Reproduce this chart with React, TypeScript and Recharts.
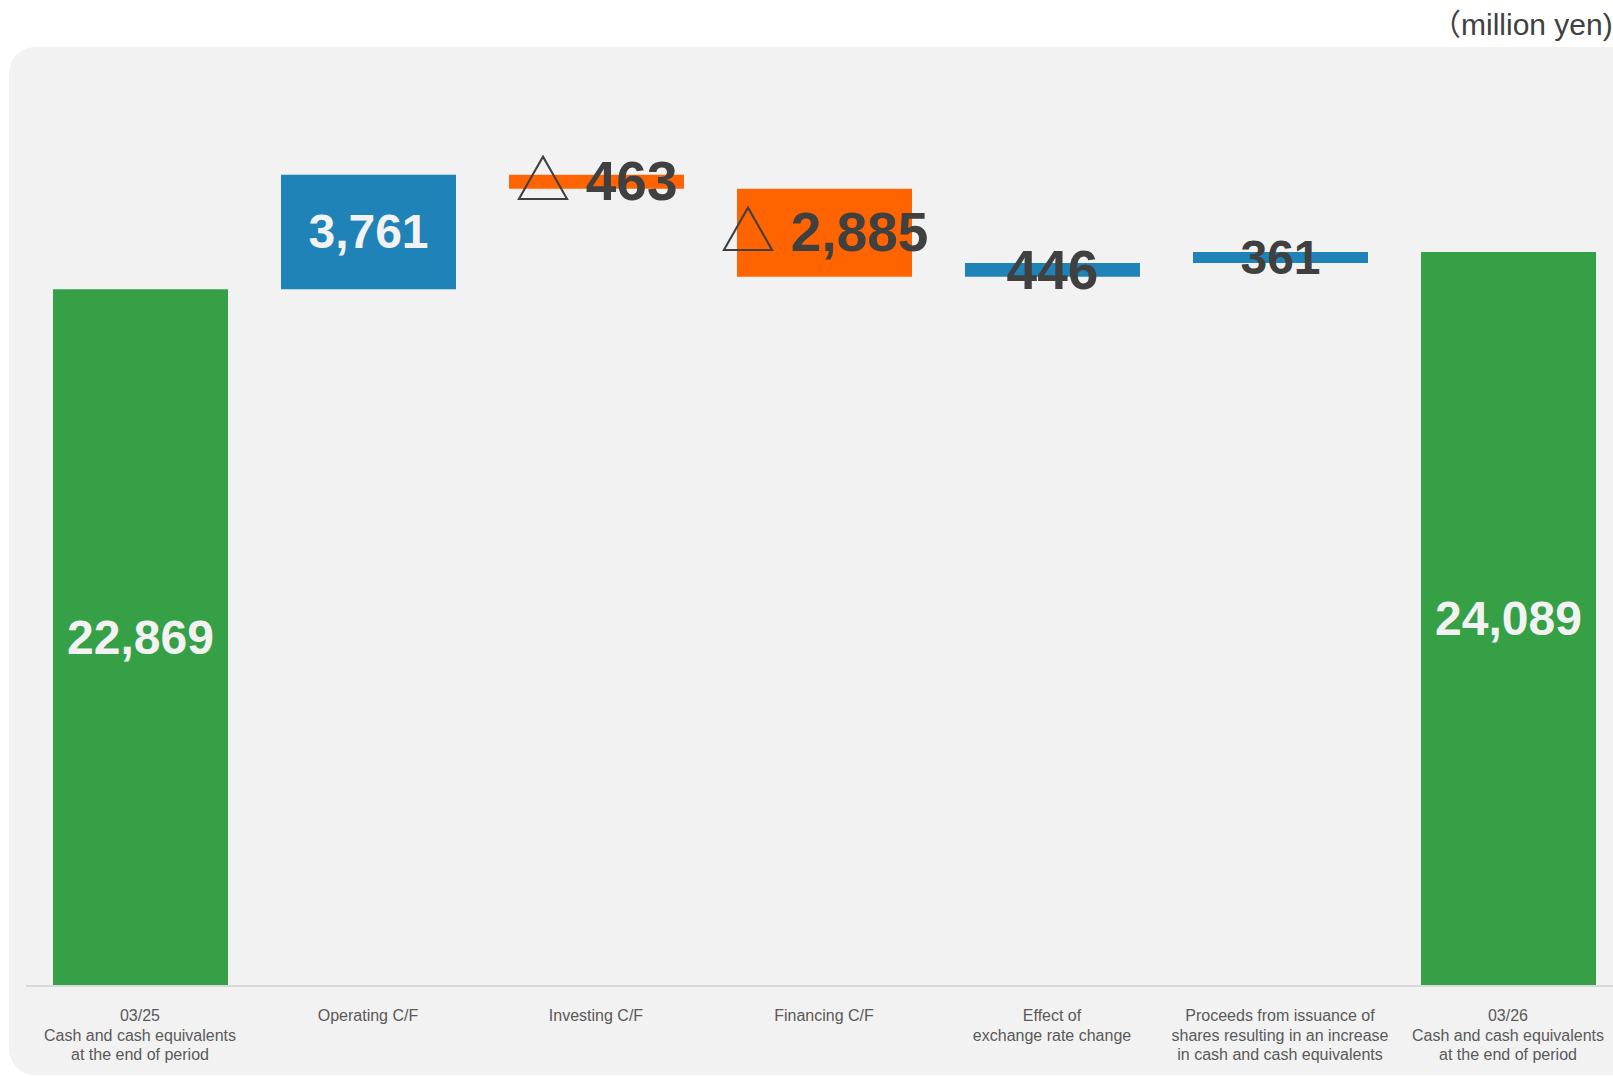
import React from "react";
import { BarChart, Bar, XAxis, YAxis, Cell, LabelList } from "recharts";

// ---------------------------------------------------------------------------
// Data
// ---------------------------------------------------------------------------

const categories = [
  "03/25\nCash and cash equivalents\nat the end of period",
  "Operating C/F",
  "Investing C/F",
  "Financing C/F",
  "Effect of\nexchange rate change",
  "Proceeds from issuance of\nshares resulting in an increase\nin cash and cash equivalents",
  "03/26\nCash and cash equivalents\nat the end of period",
];

// million yen; totals are balances, the rest are changes
const changes = [22869, 3761, -463, -2885, 446, 361, 24089];
const isTotal = [true, false, false, false, false, false, true];

const unitOpen = "（";
const unitText = "million yen)";

// ---------------------------------------------------------------------------
// Styles
// ---------------------------------------------------------------------------

const GREEN = "#36a047";
const BLUE = "#1f83b8";
const ORANGE = "#ff6400";
const DARK = "#404040";
const LIGHT = "#f2f2f2";
const labelFontSize = [48, 48, 55, 55, 55, 48, 48];

const FONT = "'Liberation Sans', Arial, sans-serif";
const CJK = "'Noto Sans CJK JP', 'DejaVu Sans', sans-serif";

// waterfall table: invisible base + visible amount
let running = 0;
const data = categories.map((name, i) => {
  const v = changes[i];
  let base = 0;
  if (isTotal[i]) {
    running = v;
  } else if (v >= 0) {
    base = running;
    running += v;
  } else {
    base = running + v;
    running += v;
  }
  return { name, base, amount: Math.abs(v), value: v };
});

const barColor = (i: number) =>
  isTotal[i] ? GREEN : changes[i] >= 0 ? BLUE : ORANGE;

const fmt = (n: number) => Math.abs(n).toLocaleString("en-US");

const ValueLabel = (props: any) => {
  const { x, y, width, height, index } = props;
  const v = changes[index];
  const fs = labelFontSize[index];
  const cx = Number(x) + Number(width) / 2;
  const cy = Number(y) + Number(height) / 2;
  const color = Math.abs(v) >= 3000 ? LIGHT : DARK;
  return (
    <text
      x={cx}
      y={cy + fs * 0.34}
      textAnchor="middle"
      fill={color}
      fontFamily={FONT}
      fontWeight="bold"
      fontSize={fs}
    >
      {v < 0 && (
        <tspan fontFamily={CJK} fontWeight="normal">
          △
        </tspan>
      )}
      {v < 0 ? " " + fmt(v) : fmt(v)}
    </text>
  );
};

const CategoryTick = (props: any) => {
  const { x, y, payload } = props;
  const lines = String(payload.value).split("\n");
  return (
    <text
      x={x}
      y={Number(y) + 27}
      textAnchor="middle"
      fill="#595959"
      fontFamily={FONT}
      fontSize={16}
    >
      {lines.map((l, i) => (
        <tspan key={i} x={x} dy={i === 0 ? 0 : 19.5}>
          {l}
        </tspan>
      ))}
    </text>
  );
};

export default function App() {
  return (
    <div
      style={{
        position: "fixed",
        left: 0,
        top: 0,
        width: 1613,
        height: 1077,
        overflow: "hidden",
        background: "#ffffff",
      }}
    >
      <svg
        width={1613}
        height={1077}
        style={{ position: "absolute", left: 0, top: 0 }}
      >
        <rect x={9} y={47} width={1700} height={1028} rx={26} ry={26} fill={LIGHT} />
        <text x={1431} y={35} fill={DARK} fontFamily={FONT} fontSize={30}>
          <tspan fontFamily={CJK}>{unitOpen}</tspan>
          {unitText}
        </text>
      </svg>
      <div style={{ position: "absolute", left: 0, top: 0 }}>
        <BarChart
          width={1640}
          height={1077}
          data={data}
          margin={{ top: 72, right: 18, left: 26, bottom: 0 }}
          barSize={175}
        >
          <XAxis
            dataKey="name"
            interval={0}
            tickLine={false}
            axisLine={{ stroke: "#d9d9d9", strokeWidth: 2 }}
            height={91}
            tick={<CategoryTick />}
          />
          <YAxis hide domain={[0, 30000]} />
          <Bar dataKey="base" stackId="w" fill="transparent" isAnimationActive={false} />
          <Bar dataKey="amount" stackId="w" isAnimationActive={false}>
            {data.map((_, i) => (
              <Cell key={i} fill={barColor(i)} />
            ))}
            <LabelList dataKey="amount" content={<ValueLabel />} />
          </Bar>
        </BarChart>
      </div>
    </div>
  );
}
